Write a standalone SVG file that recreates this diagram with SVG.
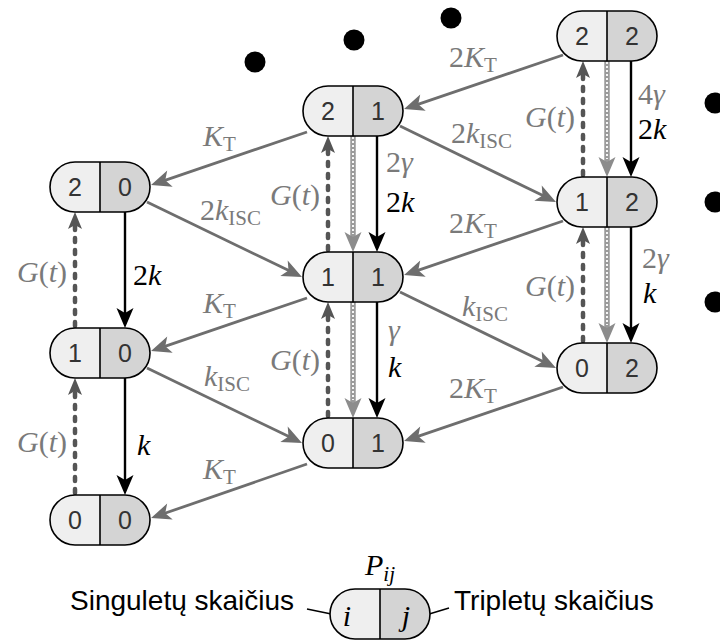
<svg xmlns="http://www.w3.org/2000/svg" width="720" height="642" viewBox="0 0 720 642">
<style>
.d{font-family:"Liberation Sans",Arial,sans-serif;font-size:25px;fill:#333;text-anchor:middle}
.t{font-family:"Liberation Sans",Arial,sans-serif;font-size:28px;fill:#000}
.m{font-family:"Liberation Serif","Times New Roman",serif;font-size:30px}
.it{font-style:italic}
.sub{font-size:21px;font-style:normal}
.gl{fill:#7a7a7a}
.bl{fill:#000}
.e{text-anchor:end}
.cg{stroke:#6e6e6e;stroke-width:2.8;fill:none;marker-end:url(#ah-gray)}
.cb{stroke:#000;stroke-width:2.4;fill:none;marker-end:url(#ah-black)}
.cd{stroke:#555;stroke-width:4.5;fill:none;stroke-dasharray:4 8;stroke-linecap:round;marker-end:url(#ah-dash)}
.cl{stroke:#9a9a9a;stroke-width:5.5;fill:none;marker-end:url(#ah-light)}
.ci{stroke:#fff;stroke-width:1.8;fill:none;stroke-dasharray:2 2}
.dot{fill:#000}
</style>
<defs>
<marker id="ah-gray" viewBox="-21 -10 22 20" markerWidth="22" markerHeight="20" refX="-10" refY="0" orient="auto" markerUnits="userSpaceOnUse"><path d="M0,0 L-20,-8.5 L-15,0 L-20,8.5 Z" fill="#6e6e6e"/></marker>
<marker id="ah-black" viewBox="-21 -10 22 20" markerWidth="22" markerHeight="20" refX="-10" refY="0" orient="auto" markerUnits="userSpaceOnUse"><path d="M0,0 L-20,-8.5 L-15,0 L-20,8.5 Z" fill="#000"/></marker>
<marker id="ah-light" viewBox="-21 -10 22 20" markerWidth="22" markerHeight="20" refX="-10" refY="0" orient="auto" markerUnits="userSpaceOnUse"><path d="M0,0 L-20,-8.5 L-15,0 L-20,8.5 Z" fill="#8c8c8c"/></marker>
<marker id="ah-dash" viewBox="-21 -10 22 20" markerWidth="22" markerHeight="20" refX="-10" refY="0" orient="auto" markerUnits="userSpaceOnUse"><path d="M0,0 L-17,-7 L-13,0 L-17,7 Z" fill="#555"/></marker>
<g id="pill">
<path d="M0,-25 H-25 A25,25 0 0 0 -25,25 H0 Z" fill="#efefef"/>
<path d="M0,-25 H25 A25,25 0 0 1 25,25 H0 Z" fill="#d4d4d4"/>
<rect x="-50" y="-25" width="100" height="50" rx="25" ry="25" fill="none" stroke="#000" stroke-width="1.6"/>
<line x1="0" y1="-25" x2="0" y2="25" stroke="#000" stroke-width="1.6"/>
</g>
</defs>

<g id="connectors">
<line class="cg" x1="307" y1="132" x2="160.5" y2="181.8"/>
<line class="cg" x1="307" y1="298" x2="160.5" y2="347.8"/>
<line class="cg" x1="307" y1="464" x2="160.5" y2="514.8"/>
<line class="cg" x1="563" y1="55" x2="413.5" y2="105.8"/>
<line class="cg" x1="563" y1="221" x2="413.5" y2="271.8"/>
<line class="cg" x1="563" y1="387" x2="413.5" y2="437.8"/>
<line class="cg" x1="147" y1="202" x2="293" y2="272.6"/>
<line class="cg" x1="147" y1="368" x2="293" y2="438.6"/>
<line class="cg" x1="400" y1="126" x2="547" y2="197.6"/>
<line class="cg" x1="400" y1="292" x2="547" y2="363.6"/>
<line class="cb" x1="125" y1="212" x2="125" y2="318"/>
<line class="cd" x1="75" y1="326" x2="75" y2="222"/>
<line class="cb" x1="125" y1="378" x2="125" y2="485"/>
<line class="cd" x1="75" y1="493" x2="75" y2="388"/>
<line class="cb" x1="377" y1="136" x2="377" y2="242"/>
<line class="cl" x1="353" y1="136" x2="353" y2="242"/>
<line class="ci" x1="353" y1="137" x2="353" y2="234"/>
<line class="cd" x1="328" y1="250" x2="328" y2="146"/>
<line class="cb" x1="377" y1="302" x2="377" y2="408"/>
<line class="cl" x1="353" y1="302" x2="353" y2="408"/>
<line class="ci" x1="353" y1="303" x2="353" y2="400"/>
<line class="cd" x1="328" y1="416" x2="328" y2="312"/>
<line class="cb" x1="631" y1="61" x2="631" y2="167"/>
<line class="cl" x1="607" y1="61" x2="607" y2="167"/>
<line class="ci" x1="607" y1="62" x2="607" y2="159"/>
<line class="cd" x1="583" y1="175" x2="583" y2="71"/>
<line class="cb" x1="631" y1="227" x2="631" y2="333"/>
<line class="cl" x1="607" y1="227" x2="607" y2="333"/>
<line class="ci" x1="607" y1="228" x2="607" y2="325"/>
<line class="cd" x1="583" y1="341" x2="583" y2="237"/>
<line x1="307" y1="609" x2="341" y2="616" stroke="#000" stroke-width="1.5"/>
<line x1="416" y1="618" x2="449" y2="608" stroke="#000" stroke-width="1.5"/>
</g>

<g id="labels">
<text class="m gl" x="203" y="146"><tspan class="it">K</tspan><tspan class="sub" dy="5">T</tspan></text>
<text class="m gl" x="203" y="313"><tspan class="it">K</tspan><tspan class="sub" dy="5">T</tspan></text>
<text class="m gl" x="203" y="479"><tspan class="it">K</tspan><tspan class="sub" dy="5">T</tspan></text>
<text class="m gl" x="449" y="67">2<tspan class="it">K</tspan><tspan class="sub" dy="5">T</tspan></text>
<text class="m gl" x="449" y="233">2<tspan class="it">K</tspan><tspan class="sub" dy="5">T</tspan></text>
<text class="m gl" x="449" y="398">2<tspan class="it">K</tspan><tspan class="sub" dy="5">T</tspan></text>
<text class="m gl" x="200" y="220">2<tspan class="it">k</tspan><tspan class="sub" dy="5">ISC</tspan></text>
<text class="m gl" x="204" y="386"><tspan class="it">k</tspan><tspan class="sub" dy="5">ISC</tspan></text>
<text class="m gl" x="451" y="143">2<tspan class="it">k</tspan><tspan class="sub" dy="5">ISC</tspan></text>
<text class="m gl" x="462" y="316"><tspan class="it">k</tspan><tspan class="sub" dy="5">ISC</tspan></text>

<text class="m bl" x="133" y="285">2<tspan class="it">k</tspan></text>
<text class="m bl it" x="137" y="455">k</text>
<text class="m gl e" x="67" y="282"><tspan class="it">G</tspan>(<tspan class="it">t</tspan>)</text>
<text class="m gl e" x="67" y="452"><tspan class="it">G</tspan>(<tspan class="it">t</tspan>)</text>

<text class="m gl" x="386" y="172">2<tspan class="it">γ</tspan></text>
<text class="m bl" x="386" y="212">2<tspan class="it">k</tspan></text>
<text class="m gl it" x="388" y="340">γ</text>
<text class="m bl it" x="388" y="377">k</text>
<text class="m gl e" x="320" y="205"><tspan class="it">G</tspan>(<tspan class="it">t</tspan>)</text>
<text class="m gl e" x="320" y="370"><tspan class="it">G</tspan>(<tspan class="it">t</tspan>)</text>

<text class="m gl" x="638" y="104">4<tspan class="it">γ</tspan></text>
<text class="m bl" x="638" y="139">2<tspan class="it">k</tspan></text>
<text class="m gl" x="642" y="268">2<tspan class="it">γ</tspan></text>
<text class="m bl it" x="643" y="303">k</text>
<text class="m gl e" x="575" y="127"><tspan class="it">G</tspan>(<tspan class="it">t</tspan>)</text>
<text class="m gl e" x="575" y="296"><tspan class="it">G</tspan>(<tspan class="it">t</tspan>)</text>
</g>

<g id="n20" transform="translate(100,187)"><use href="#pill"/><text class="d" x="-25" y="9">2</text><text class="d" x="25" y="9">0</text></g>
<g id="n10" transform="translate(100,353)"><use href="#pill"/><text class="d" x="-25" y="9">1</text><text class="d" x="25" y="9">0</text></g>
<g id="n00" transform="translate(100,520)"><use href="#pill"/><text class="d" x="-25" y="9">0</text><text class="d" x="25" y="9">0</text></g>
<g id="n21" transform="translate(353,111)"><use href="#pill"/><text class="d" x="-25" y="9">2</text><text class="d" x="25" y="9">1</text></g>
<g id="n11" transform="translate(353,277)"><use href="#pill"/><text class="d" x="-25" y="9">1</text><text class="d" x="25" y="9">1</text></g>
<g id="n01" transform="translate(353,443)"><use href="#pill"/><text class="d" x="-25" y="9">0</text><text class="d" x="25" y="9">1</text></g>
<g id="n22" transform="translate(607,36)"><use href="#pill"/><text class="d" x="-25" y="9">2</text><text class="d" x="25" y="9">2</text></g>
<g id="n12" transform="translate(607,202)"><use href="#pill"/><text class="d" x="-25" y="9">1</text><text class="d" x="25" y="9">2</text></g>
<g id="n02" transform="translate(607,368)"><use href="#pill"/><text class="d" x="-25" y="9">0</text><text class="d" x="25" y="9">2</text></g>

<g id="legend">
<g transform="translate(380,614)"><use href="#pill"/>
<text class="m it" x="-33" y="12" text-anchor="middle">i</text>
<text class="m it" x="26" y="12" text-anchor="middle">j</text>
</g>
<text class="m" x="380" y="575" text-anchor="middle"><tspan class="it">P</tspan><tspan class="it" font-size="21" dy="6">ij</tspan></text>
<text class="t" x="70" y="610">Singuletų skaičius</text>
<text class="t" x="454" y="610">Tripletų skaičius</text>
</g>

<g id="dots">
<circle class="dot" cx="255" cy="62" r="10.5"/>
<circle class="dot" cx="354" cy="40" r="10.5"/>
<circle class="dot" cx="451" cy="18" r="10.5"/>
<circle class="dot" cx="715" cy="103" r="10.5"/>
<circle class="dot" cx="715" cy="202" r="10.5"/>
<circle class="dot" cx="715" cy="302" r="10.5"/>
</g>
</svg>
